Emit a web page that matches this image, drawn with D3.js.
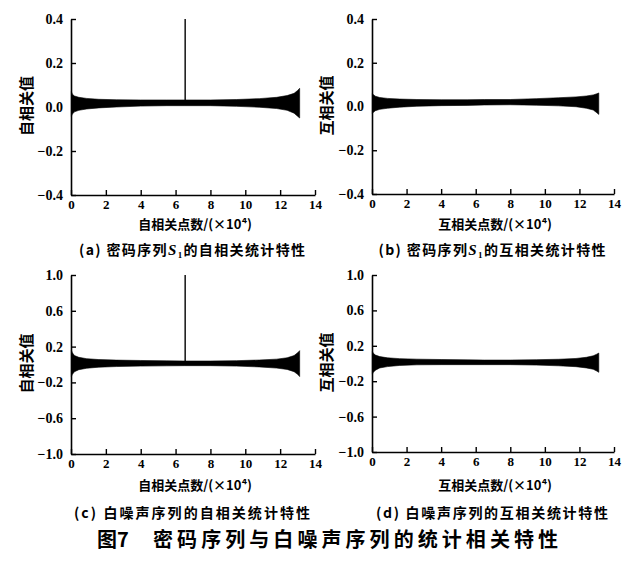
<!DOCTYPE html>
<html><head><meta charset="utf-8">
<script src="https://cdn.jsdelivr.net/npm/d3@7"></script>
<style>body{margin:0;background:#fff}svg{display:block}</style>
</head><body>
<script>
// envelope x positions (×10^4 points)
const envX = [0.02, 0.08, 0.2, 0.45, 0.9, 1.6, 2.6, 4.0, 5.5, 6.5, 8.0, 9.5, 10.8, 11.8, 12.4, 12.8, 13.0, 13.12];
// (a) cipher autocorrelation envelope
const upperA = [0.07, 0.058, 0.05, 0.044, 0.039, 0.035, 0.033, 0.032, 0.032, 0.032, 0.032, 0.034, 0.038, 0.044, 0.052, 0.062, 0.075, 0.085];
const lowerA = [-0.042, -0.032, -0.022, -0.015, -0.009, -0.004, 0.0, 0.004, 0.006, 0.006, 0.006, 0.003, -0.001, -0.007, -0.015, -0.028, -0.042, -0.05];
// (b) cipher cross-correlation envelope
const upperB = [0.06, 0.054, 0.047, 0.041, 0.037, 0.034, 0.032, 0.031, 0.031, 0.032, 0.032, 0.036, 0.04, 0.044, 0.048, 0.053, 0.058, 0.062];
const lowerB = [-0.032, -0.026, -0.019, -0.013, -0.008, -0.003, 0.001, 0.004, 0.005, 0.007, 0.008, 0.006, 0.003, -0.001, -0.008, -0.016, -0.028, -0.036];
// (c) white noise autocorrelation envelope
const upperC = [0.16, 0.13, 0.1, 0.08, 0.065, 0.055, 0.049, 0.045, 0.041, 0.039, 0.039, 0.043, 0.05, 0.06, 0.075, 0.1, 0.13, 0.155];
const lowerC = [-0.135, -0.11, -0.08, -0.058, -0.042, -0.03, -0.023, -0.018, -0.015, -0.013, -0.013, -0.018, -0.027, -0.04, -0.055, -0.08, -0.11, -0.135];
// (d) white noise cross-correlation envelope
const upperD = [0.135, 0.115, 0.095, 0.078, 0.064, 0.055, 0.049, 0.045, 0.041, 0.039, 0.039, 0.043, 0.048, 0.057, 0.07, 0.087, 0.105, 0.118];
const lowerD = [-0.12, -0.1, -0.075, -0.05, -0.035, -0.022, -0.015, -0.013, -0.013, -0.013, -0.013, -0.018, -0.026, -0.036, -0.05, -0.065, -0.085, -0.1];
// autocorrelation peaks
const spikeX = 6.55;
const spikeA = 0.4;
const spikeC = 1.0;
// ticks
const xTicks = [0, 2, 4, 6, 8, 10, 12, 14];
const yTicksTop = [0.4, 0.2, 0.0, -0.2, -0.4];
const yTicksBottom = [1.0, 0.6, 0.2, -0.2, -0.6, -1.0];
// texts
const yLabels = ["自相关值", "互相关值", "自相关值", "互相关值"];
const xLabels = ["自相关点数/(×10⁴)", "互相关点数/(×10⁴)", "自相关点数/(×10⁴)", "互相关点数/(×10⁴)"];
const captions = [
  ["(a) 密码序列", "S", "1", "的自相关统计特性"],
  ["(b) 密码序列", "S", "1", "的互相关统计特性"],
  ["(c) 白噪声序列的自相关统计特性", "", "", ""],
  ["(d) 白噪声序列的互相关统计特性", "", "", ""]
];
const figTitleNum = "图7";
const figTitle = "密码序列与白噪声序列的统计相关特性";

const W = 634, H = 562;
const svg = d3.select("body").append("svg").attr("width", W).attr("height", H);

const panels = [
  {l:71, r:315, t:19, b:195, dom:[-0.4,0.4], ticks:yTicksTop, up:upperA, lo:lowerA, spike:spikeA, yl:25, xl:229, cap:255, capW:226},
  {l:372, r:614, t:19, b:194, dom:[-0.4,0.4], ticks:yTicksTop, up:upperB, lo:lowerB, spike:null, yl:325, xl:229, cap:255, capW:227},
  {l:71, r:315, t:275, b:454, dom:[-1,1], ticks:yTicksBottom, up:upperC, lo:lowerC, spike:spikeC, yl:25, xl:490, cap:518, capW:236},
  {l:372, r:614, t:275, b:452, dom:[-1,1], ticks:yTicksBottom, up:upperD, lo:lowerD, spike:null, yl:325, xl:490, cap:518, capW:232}
];

const numFont = "'Liberation Serif','Times New Roman',serif";
const cjkFont = "'Noto Sans CJK SC','Noto Sans',sans-serif";

panels.forEach((p, i) => {
  const x = d3.scaleLinear().domain([0, 14]).range([p.l, p.r]);
  const y = d3.scaleLinear().domain(p.dom).range([p.b, p.t]);
  const g = svg.append("g");

  // band
  const area = d3.area().x((d, k) => x(envX[k])).y0((d, k) => y(p.lo[k])).y1((d, k) => y(p.up[k])).curve(d3.curveLinear);
  g.append("path").datum(p.up).attr("d", area).attr("fill", "#000").attr("stroke", "#000").attr("stroke-width", 0.6);

  if (p.spike !== null) {
    g.append("line").attr("x1", x(spikeX)).attr("x2", x(spikeX))
      .attr("y1", y((p.up[9] + p.lo[9]) / 2)).attr("y2", y(p.spike))
      .attr("stroke", "#000").attr("stroke-width", 1.4);
  }

  // axes
  const xa = g.append("g").attr("transform", `translate(0,${p.b})`)
    .call(d3.axisBottom(x).tickValues(xTicks).tickSizeInner(-5).tickSizeOuter(0).tickPadding(5));
  const ya = g.append("g").attr("transform", `translate(${p.l},0)`)
    .call(d3.axisLeft(y).tickValues(p.ticks).tickSizeInner(-5).tickSizeOuter(0).tickPadding(8));
  [xa, ya].forEach(a => {
    a.select(".domain").attr("stroke", "#000").attr("stroke-width", 1.6);
    a.selectAll(".tick line").attr("stroke", "#000").attr("stroke-width", 1.4);
    a.selectAll("text").attr("fill", "#000").style("font-family", numFont).style("font-size", "14px").style("font-weight", "bold");
  });
  xa.selectAll("text").style("font-size", "13px");
  ya.selectAll("text").text(d => d3.format(".1f")(d).replace("-", "−"));

  // labels
  svg.append("text").attr("transform", `translate(${p.yl},${(p.t + p.b) / 2 - 1}) rotate(-90)`)
    .attr("text-anchor", "middle").attr("dominant-baseline", "central")
    .style("font-family", cjkFont).style("font-size", "15px").style("font-weight", "bold")
    .text(yLabels[i]);
  svg.append("text").attr("x", (p.l + p.r) / 2 + 2).attr("y", p.xl)
    .attr("text-anchor", "middle")
    .style("font-family", cjkFont).style("font-size", "13px").style("font-weight", "bold")
    .text(xLabels[i]);
  const c = captions[i];
  const ct = svg.append("text").attr("x", (p.l + p.r) / 2 - 1).attr("y", p.cap)
    .attr("text-anchor", "middle").attr("textLength", p.capW).attr("lengthAdjust", "spacing")
    .style("font-family", cjkFont).style("font-size", "14px").style("font-weight", "bold");
  ct.append("tspan").text(c[0]);
  if (c[1]) {
    ct.append("tspan").style("font-family", numFont).style("font-style", "italic").style("font-size", "15px").text(c[1]);
    ct.append("tspan").attr("dy", 3).style("font-family", numFont).style("font-size", "9px").text(c[2]);
    ct.append("tspan").attr("dy", -3).text(c[3]);
  }
});

svg.append("text").attr("x", 97).attr("y", 547)
  .style("font-family", cjkFont).style("font-size", "20px").style("font-weight", "bold")
  .text(figTitleNum);
svg.append("text").attr("x", 153).attr("y", 547)
  .attr("textLength", 405).attr("lengthAdjust", "spacing")
  .style("font-family", cjkFont).style("font-size", "20px").style("font-weight", "bold")
  .text(figTitle);
</script>
</body></html>
